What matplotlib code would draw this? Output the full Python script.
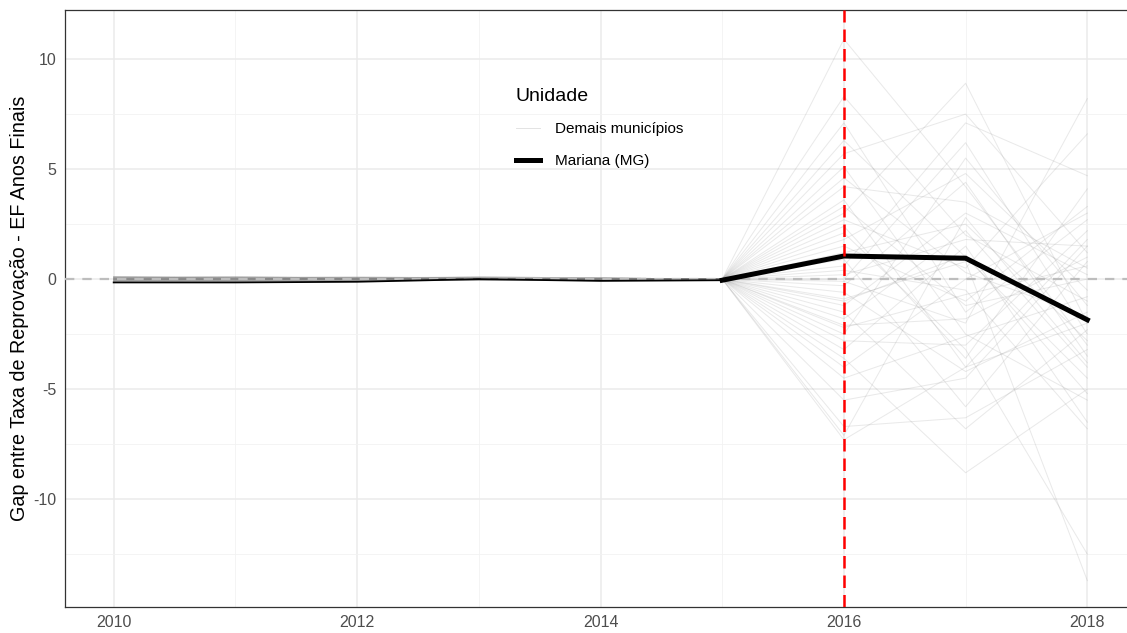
import numpy as np
import matplotlib
matplotlib.use('Agg')
import matplotlib.pyplot as plt
from matplotlib.lines import Line2D
from matplotlib.ticker import MultipleLocator

plt.rcParams['font.family'] = ['Liberation Sans', 'DejaVu Sans']
plt.rcParams['axes.unicode_minus'] = False

years = [2010, 2011, 2012, 2013, 2014, 2015, 2016, 2017, 2018]
treat_year = 2016

# gap for the treated unit
mariana = [-0.15, -0.15, -0.12, 0.0, -0.08, -0.05, 1.05, 0.95, -1.85]

# placebo gaps for the other municipalities, 2010-2015
donor_pre = [
    [0.05, 0.05, 0.0, 0.05, 0.0, 0.0],
    [-0.05, -0.05, 0.0, 0.05, -0.05, 0.0],
    [0.1, 0.1, 0.05, 0.0, 0.0, 0.0],
    [0.0, 0.0, -0.05, 0.0, 0.05, 0.0],
    [-0.1, -0.1, -0.05, 0.0, -0.05, 0.0],
    [0.05, 0.0, 0.0, 0.1, 0.05, 0.0],
    [0.0, 0.05, 0.05, 0.0, -0.05, 0.0],
    [-0.05, 0.0, 0.0, -0.05, 0.0, 0.0],
    [0.1, 0.05, 0.0, 0.05, 0.0, 0.0],
    [0.0, -0.05, -0.1, 0.0, 0.0, 0.0],
    [0.05, 0.05, 0.05, 0.0, 0.0, 0.0],
    [-0.05, -0.1, -0.05, -0.05, 0.0, 0.0],
    [0.0, 0.0, 0.05, 0.1, 0.05, 0.0],
    [0.1, 0.1, 0.1, 0.05, 0.0, 0.0],
    [-0.1, -0.05, 0.0, 0.0, -0.05, 0.0],
    [0.0, 0.05, 0.0, -0.05, 0.0, 0.0],
    [0.05, 0.0, -0.05, 0.0, 0.05, 0.0],
    [-0.05, -0.05, -0.05, 0.0, 0.0, 0.0],
    [0.0, 0.0, 0.0, 0.05, 0.0, 0.0],
    [0.1, 0.05, 0.05, 0.1, 0.05, 0.0],
    [-0.05, 0.0, 0.05, 0.0, -0.05, 0.0],
    [0.0, -0.05, 0.0, 0.0, 0.0, 0.0],
    [0.05, 0.1, 0.05, 0.0, 0.0, 0.0],
    [-0.1, -0.1, -0.1, -0.05, 0.0, 0.0],
    [0.0, 0.0, 0.05, 0.05, 0.05, 0.0],
    [0.05, 0.05, 0.0, -0.05, -0.05, 0.0],
    [-0.05, 0.0, 0.0, 0.0, 0.05, 0.0],
    [0.1, 0.1, 0.05, 0.05, 0.0, 0.0],
    [0.0, -0.05, -0.05, 0.0, 0.0, 0.0],
    [-0.05, -0.05, 0.0, 0.05, 0.0, 0.0],
    [0.05, 0.0, 0.0, 0.0, -0.05, 0.0],
    [0.0, 0.05, 0.1, 0.05, 0.0, 0.0],
    [-0.1, -0.05, -0.05, 0.0, 0.0, 0.0],
    [0.05, 0.05, 0.05, 0.05, 0.05, 0.0],
    [0.0, 0.0, -0.05, -0.05, 0.0, 0.0],
    [0.1, 0.05, 0.0, 0.0, 0.0, 0.0],
    [-0.05, -0.1, -0.05, 0.0, 0.05, 0.0],
    [0.0, 0.0, 0.0, 0.1, 0.05, 0.0],
    [0.05, 0.1, 0.05, 0.0, -0.05, 0.0],
    [-0.05, 0.0, 0.05, 0.05, 0.0, 0.0],
    [0.0, -0.05, 0.0, -0.05, 0.0, 0.0],
    [0.1, 0.05, 0.05, 0.0, 0.0, 0.0],
]

# placebo gaps for the other municipalities, 2016-2018
donor_post = [
    [10.9, 4.2, -3.0],
    [8.3, 2.0, -1.0],
    [7.1, -1.5, 2.7],
    [6.3, 1.0, -4.5],
    [5.7, 7.5, 1.2],
    [5.1, -2.5, -5.5],
    [4.2, 3.5, 0.5],
    [3.6, -4.0, 1.8],
    [3.0, 8.9, -2.0],
    [2.7, 0.5, 6.6],
    [2.1, -3.2, -12.5],
    [1.8, 4.8, -0.5],
    [1.5, -1.0, 3.3],
    [1.2, 2.5, -2.8],
    [0.9, -5.8, 0.8],
    [0.6, 7.1, 4.7],
    [0.4, -0.5, -6.8],
    [0.2, 1.8, 1.5],
    [-0.1, -2.0, 8.2],
    [-0.3, 4.4, -3.5],
    [-0.6, -4.2, -1.5],
    [-0.9, 0.8, -13.7],
    [-1.2, 3.0, 0.2],
    [-1.5, -6.8, -2.3],
    [-1.8, 2.2, -4.0],
    [-2.1, -1.8, 1.0],
    [-2.5, 5.5, -1.2],
    [-2.8, -3.0, 2.2],
    [-3.2, 1.5, -6.5],
    [-3.6, -8.8, -5.0],
    [-4.0, 0.0, 3.0],
    [-4.5, -2.6, -0.8],
    [-5.5, -4.5, 1.5],
    [-6.7, -6.3, -3.2],
    [-7.3, -4.0, -2.0],
    [-7.1, 2.8, -3.8],
    [3.3, -1.2, 0.0],
    [0.0, 6.2, -2.5],
    [2.4, -3.6, 4.1],
    [-1.0, 1.1, -5.2],
    [4.6, 0.3, -1.7],
    [-2.2, -0.7, 0.6],
]

fig = plt.figure(figsize=(11.27, 6.33), dpi=100)
ax = fig.add_axes([65 / 1127, 26 / 633, 1071 / 1127, 597 / 633])

for pre, post in zip(donor_pre, donor_post):
    ax.plot(years, pre + post, color='#7f7f7f', alpha=0.17, lw=0.7, zorder=2)

ax.axhline(0, color='#bdbdbd', lw=1.6, dashes=(4.2, 3.6), zorder=3)

# thin before the intervention, thick from 2015 on
k = years.index(2015)
ax.plot(years[:k + 1], mariana[:k + 1], color='black', lw=1.3, zorder=4)
ax.plot(years[k:], mariana[k:], color='black', lw=3.6, solid_joinstyle='miter', zorder=4)
ax.axvline(treat_year, color='#ff0000', lw=1.8, dashes=(5.0, 2.8), zorder=5)

ax.set_xlim(2009.6, 2018.4)
ax.set_ylim(-14.9, 12.23)
ax.xaxis.set_major_locator(MultipleLocator(2))
ax.xaxis.set_minor_locator(MultipleLocator(1))
ax.yaxis.set_major_locator(MultipleLocator(5))
ax.yaxis.set_minor_locator(MultipleLocator(2.5))
ax.grid(which='major', color='#ebebeb', lw=1.1, zorder=0)
ax.grid(which='minor', color='#f2f2f2', lw=0.6, zorder=0)
ax.set_axisbelow(True)
ax.tick_params(which='both', length=0, labelsize=11.5, labelcolor='#4d4d4d', pad=6)

for side in ['left', 'top', 'bottom', 'right']:
    ax.spines[side].set_color('#333333')
    ax.spines[side].set_linewidth(0.9)

ax.set_ylabel('Gap entre Taxa de Reprovação - EF Anos Finais', fontsize=14.2, labelpad=3)

handles = [
    Line2D([], [], color='#e3e3e3', lw=0.7),
    Line2D([], [], color='black', lw=3.6),
]
leg = ax.legend(handles, ['Demais municípios', 'Mariana (MG)'], title='Unidade',
                loc='upper left', bbox_to_anchor=(502 / 1127, 1 - 74 / 633),
                bbox_transform=fig.transFigure, frameon=False, fontsize=11,
                title_fontsize=14, handlelength=1.6, handletextpad=1.0,
                labelspacing=1.15, alignment='left')

fig.savefig('out.png', dpi=100)
